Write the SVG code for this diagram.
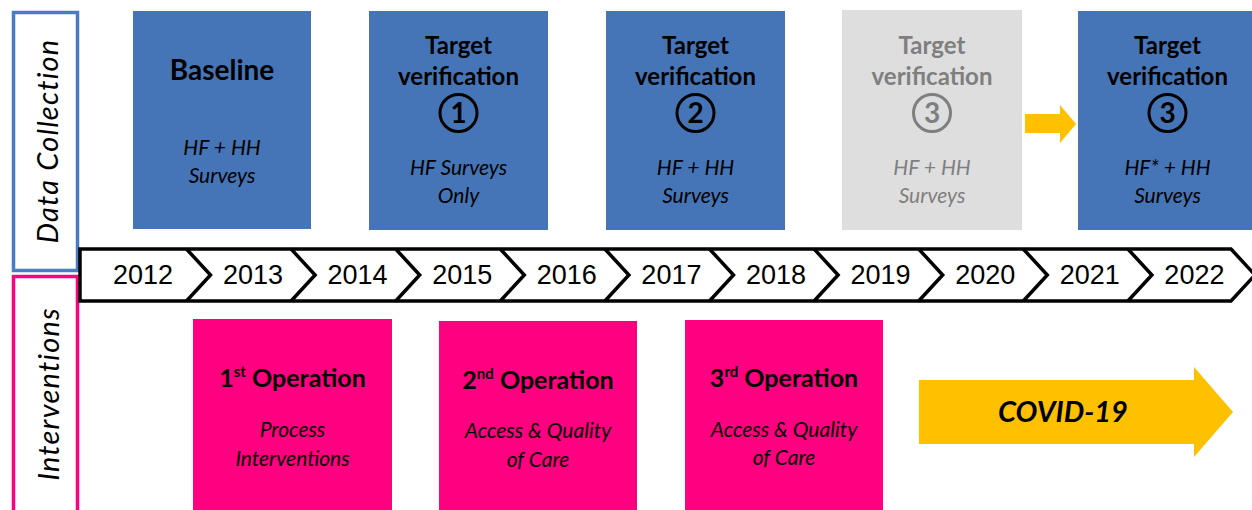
<svg xmlns="http://www.w3.org/2000/svg" width="1252" height="510" viewBox="0 0 1252 510">
<style>
.blue{fill:#4575b6}
.gray{fill:#dedede}
.pink{fill:#ff0080}
.yel{fill:#ffc000}
.t{font-family:Lato,"Open Sans","Liberation Sans",sans-serif;text-anchor:middle;fill:#000}
.h{font-weight:bold;font-size:24px}
.s{font-style:italic;font-size:21px}
.d{font-weight:bold;font-size:28px}
.g{fill:#7f7f7f}
.yr{font-family:"Liberation Sans",Arial,sans-serif;font-size:27px;text-anchor:middle;fill:#000}
.lab{font-family:Lato,"Open Sans","Liberation Sans",sans-serif;font-style:italic;font-size:29px;letter-spacing:1.2px;text-anchor:middle;dominant-baseline:central;fill:#000}
.circ{fill:none;stroke:#000;stroke-width:3}
.notch{fill:none;stroke:#000;stroke-width:3.5;stroke-linejoin:miter}
</style>
<rect width="1252" height="510" fill="#fff"/>

<g id="label-data-collection">
<rect x="13.5" y="12.5" width="64" height="258" fill="#fff" stroke="#4a7cc0" stroke-width="3.5"/>
<text class="lab" transform="translate(46,141) rotate(-90)">Data Collection</text>
</g>
<g id="label-interventions">
<rect x="13.5" y="276.5" width="64" height="250" fill="#fff" stroke="#ff0080" stroke-width="3.5"/>
<text class="lab" transform="translate(47,394) rotate(-90)">Interventions</text>
</g>

<g id="timeline">
<polygon points="80,249 1231,249 1255,275 1231,301 80,301" fill="#fff" stroke="#000" stroke-width="3.5"/>
<polyline class="notch" points="186.5,249 210.5,275 186.5,301"/>
<polyline class="notch" points="291.1,249 315.1,275 291.1,301"/>
<polyline class="notch" points="395.7,249 419.7,275 395.7,301"/>
<polyline class="notch" points="500.3,249 524.3,275 500.3,301"/>
<polyline class="notch" points="604.9,249 628.9,275 604.9,301"/>
<polyline class="notch" points="709.5,249 733.5,275 709.5,301"/>
<polyline class="notch" points="814.1,249 838.1,275 814.1,301"/>
<polyline class="notch" points="918.7,249 942.7,275 918.7,301"/>
<polyline class="notch" points="1023.3,249 1047.3,275 1023.3,301"/>
<polyline class="notch" points="1127.9,249 1151.9,275 1127.9,301"/>
<text class="yr" x="143" y="284">2012</text>
<text class="yr" x="253" y="284">2013</text>
<text class="yr" x="357.6" y="284">2014</text>
<text class="yr" x="462.2" y="284">2015</text>
<text class="yr" x="566.8" y="284">2016</text>
<text class="yr" x="671.4" y="284">2017</text>
<text class="yr" x="776" y="284">2018</text>
<text class="yr" x="880.6" y="284">2019</text>
<text class="yr" x="985.2" y="284">2020</text>
<text class="yr" x="1089.8" y="284">2021</text>
<text class="yr" x="1194.4" y="284">2022</text>
</g>

<g id="baseline">
<rect class="blue" x="133" y="11" width="178" height="218"/>
<text class="t h" x="222" y="80" style="font-size:28px">Baseline</text>
<text class="t s" x="222" y="155">HF + HH</text>
<text class="t s" x="222" y="183">Surveys</text>
</g>

<g id="tv1">
<rect class="blue" x="369" y="11" width="179" height="219"/>
<text class="t h" x="458.5" y="54">Target</text>
<text class="t h" x="458.5" y="85">verification</text>
<circle class="circ" cx="458.5" cy="113" r="18.5"/>
<text class="t d" x="458.5" y="123">1</text>
<text class="t s" x="458.5" y="175">HF Surveys</text>
<text class="t s" x="458.5" y="203">Only</text>
</g>

<g id="tv2">
<rect class="blue" x="606" y="11" width="179" height="219"/>
<text class="t h" x="695.5" y="54">Target</text>
<text class="t h" x="695.5" y="85">verification</text>
<circle class="circ" cx="695.5" cy="113" r="18.5"/>
<text class="t d" x="695.5" y="123">2</text>
<text class="t s" x="695.5" y="175">HF + HH</text>
<text class="t s" x="695.5" y="203">Surveys</text>
</g>

<g id="tv3-planned">
<rect class="gray" x="842" y="10" width="180" height="220"/>
<text class="t h g" x="932" y="54">Target</text>
<text class="t h g" x="932" y="85">verification</text>
<circle class="circ" cx="932" cy="113" r="18.5" style="stroke:#7f7f7f"/>
<text class="t d g" x="932" y="123">3</text>
<text class="t s g" x="932" y="175">HF + HH</text>
<text class="t s g" x="932" y="203">Surveys</text>
</g>

<g id="tv3-actual">
<rect class="blue" x="1078" y="11" width="180" height="219"/>
<text class="t h" x="1167.5" y="54">Target</text>
<text class="t h" x="1167.5" y="85">verification</text>
<circle class="circ" cx="1167.5" cy="113" r="18.5"/>
<text class="t d" x="1167.5" y="123">3</text>
<text class="t s" x="1167.5" y="175">HF* + HH</text>
<text class="t s" x="1167.5" y="203">Surveys</text>
</g>

<g id="op1">
<rect class="pink" x="193" y="319" width="199" height="200"/>
<text class="t h" x="292.5" y="387" style="font-size:25px">1<tspan font-size="15" dy="-10">st</tspan><tspan dy="10"> Operation</tspan></text>
<text class="t s" x="292.5" y="437">Process</text>
<text class="t s" x="292.5" y="466">Interventions</text>
</g>

<g id="op2">
<rect class="pink" x="439" y="321" width="198" height="200"/>
<text class="t h" x="538" y="389" style="font-size:25px">2<tspan font-size="15" dy="-10">nd</tspan><tspan dy="10"> Operation</tspan></text>
<text class="t s" x="538" y="438">Access &amp; Quality</text>
<text class="t s" x="538" y="467">of Care</text>
</g>

<g id="op3">
<rect class="pink" x="685" y="320" width="198" height="200"/>
<text class="t h" x="784" y="387" style="font-size:25px">3<tspan font-size="15" dy="-10">rd</tspan><tspan dy="10"> Operation</tspan></text>
<text class="t s" x="784" y="437">Access &amp; Quality</text>
<text class="t s" x="784" y="465">of Care</text>
</g>

<g id="covid">
<polygon class="yel" points="919,380 1194,380 1194,367 1233,412 1194,457 1194,444 919,444"/>
<text class="t" x="1063" y="422" style="font-weight:bold;font-style:italic;font-size:29px">COVID-19</text>
</g>

<g id="connectors">
<polygon class="yel" points="1025,114 1060,114 1060,105 1076,124 1060,143 1060,133 1025,133"/>
</g>
</svg>
